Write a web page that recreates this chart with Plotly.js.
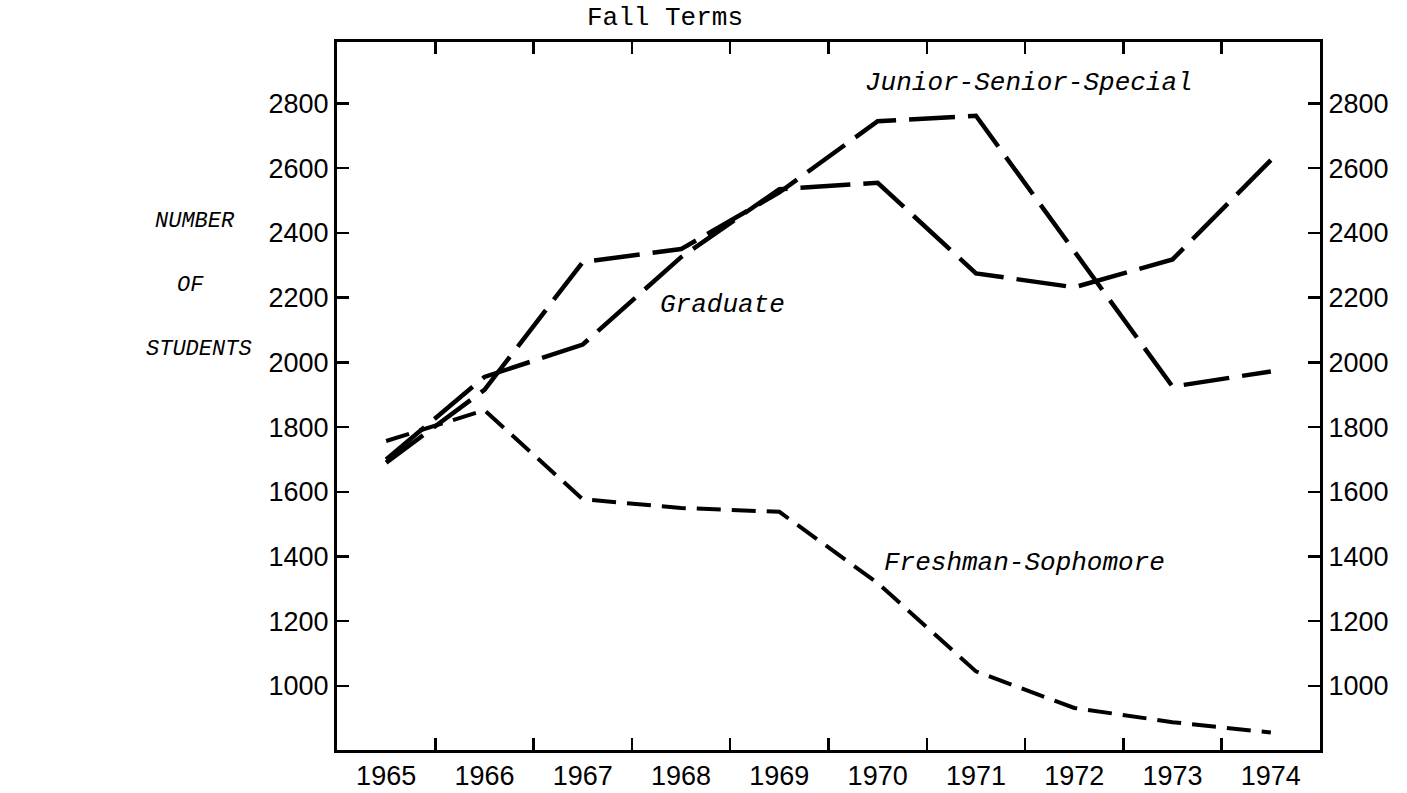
<!DOCTYPE html>
<html>
<head>
<meta charset="utf-8">
<script src="https://cdn.plot.ly/plotly-3.0.1.min.js"></script>
<style>
  html, body { margin: 0; padding: 0; background: #fff; }
  #chart { width: 1407px; height: 793px; }
</style>
</head>
<body>
<div id="chart"></div>
<script>
// ---- data ----
const years = ['1965', '1966', '1967', '1968', '1969', '1970', '1971', '1972', '1973', '1974'];
const juniorSeniorSpecial = [1690, 1915, 2310, 2350, 2525, 2745, 2762, 2345, 1925, 1972];
const graduate = [1700, 1955, 2055, 2325, 2535, 2555, 2275, 2232, 2318, 2625];
const freshmanSophomore = [1757, 1852, 1577, 1550, 1538, 1318, 1045, 932, 888, 856];
const yTickValues = [1000, 1200, 1400, 1600, 1800, 2000, 2200, 2400, 2600, 2800];
const seriesNames = ['Junior-Senior-Special', 'Graduate', 'Freshman-Sophomore'];
const yTitleLines = ['NUMBER', 'OF', 'STUDENTS'];
const chartTitle = 'Fall Terms';

const yRange = [802, 2990];
const tickFont = { family: 'Liberation Sans, Arial, sans-serif', size: 27, color: '#000' };
const monoFont = { family: 'Liberation Mono, Courier New, monospace', size: 26, color: '#000' };
const sideFont = { family: 'Liberation Mono, Courier New, monospace', size: 22, color: '#000' };

const traces = [
  { x: years, y: juniorSeniorSpecial, name: seriesNames[0], type: 'scatter', mode: 'lines',
    line: { color: '#000', width: 4.5, dash: '46px,13px' }, hoverinfo: 'skip' },
  { x: years, y: graduate, name: seriesNames[1], type: 'scatter', mode: 'lines',
    line: { color: '#000', width: 4.5, dash: '50px,13px' }, hoverinfo: 'skip' },
  { x: years, y: freshmanSophomore, name: seriesNames[2], type: 'scatter', mode: 'lines', yaxis: 'y2',
    line: { color: '#000', width: 4, dash: '24px,11px' }, hoverinfo: 'skip' }
];

const axisCommon = {
  showline: true, linecolor: '#000', linewidth: 3,
  ticks: 'inside', ticklen: 12, tickwidth: 2.5, tickcolor: '#000',
  showgrid: false, zeroline: false, fixedrange: true, tickfont: tickFont
};

function label(text, x, y, font) {
  return { text: text, xref: 'paper', yref: 'paper', x: x, y: y,
           xanchor: 'center', yanchor: 'middle', showarrow: false, font: font };
}

const layout = {
  width: 1407, height: 793,
  paper_bgcolor: '#fff', plot_bgcolor: '#fff',
  margin: { l: 337, r: 87, t: 42, b: 43 },
  showlegend: false,
  xaxis: Object.assign({}, axisCommon, {
    type: 'category', range: [-0.5, 9.5], tickson: 'boundaries', mirror: 'ticks'
  }),
  yaxis: Object.assign({}, axisCommon, {
    range: yRange, tickvals: yTickValues, side: 'left'
  }),
  yaxis2: Object.assign({}, axisCommon, {
    range: yRange, tickvals: yTickValues, side: 'right', overlaying: 'y'
  }),
  annotations: [
    label(chartTitle, 0.3337, 1.034, monoFont),
    label('<i>' + seriesNames[0] + '</i>', 0.704, 0.942, monoFont),
    label('<i>' + seriesNames[1] + '</i>', 0.3917, 0.6285, monoFont),
    label('<i>' + seriesNames[2] + '</i>', 0.6989, 0.2641, monoFont),
    label('<i>' + yTitleLines[0] + '</i>', -0.1445, 0.7458, sideFont),
    label('<i>' + yTitleLines[1] + '</i>', -0.1495, 0.6554, sideFont),
    label('<i>' + yTitleLines[2] + '</i>', -0.1404, 0.565, sideFont)
  ]
};

Plotly.newPlot('chart', traces, layout, { staticPlot: true, displayModeBar: false });
</script>
</body>
</html>
